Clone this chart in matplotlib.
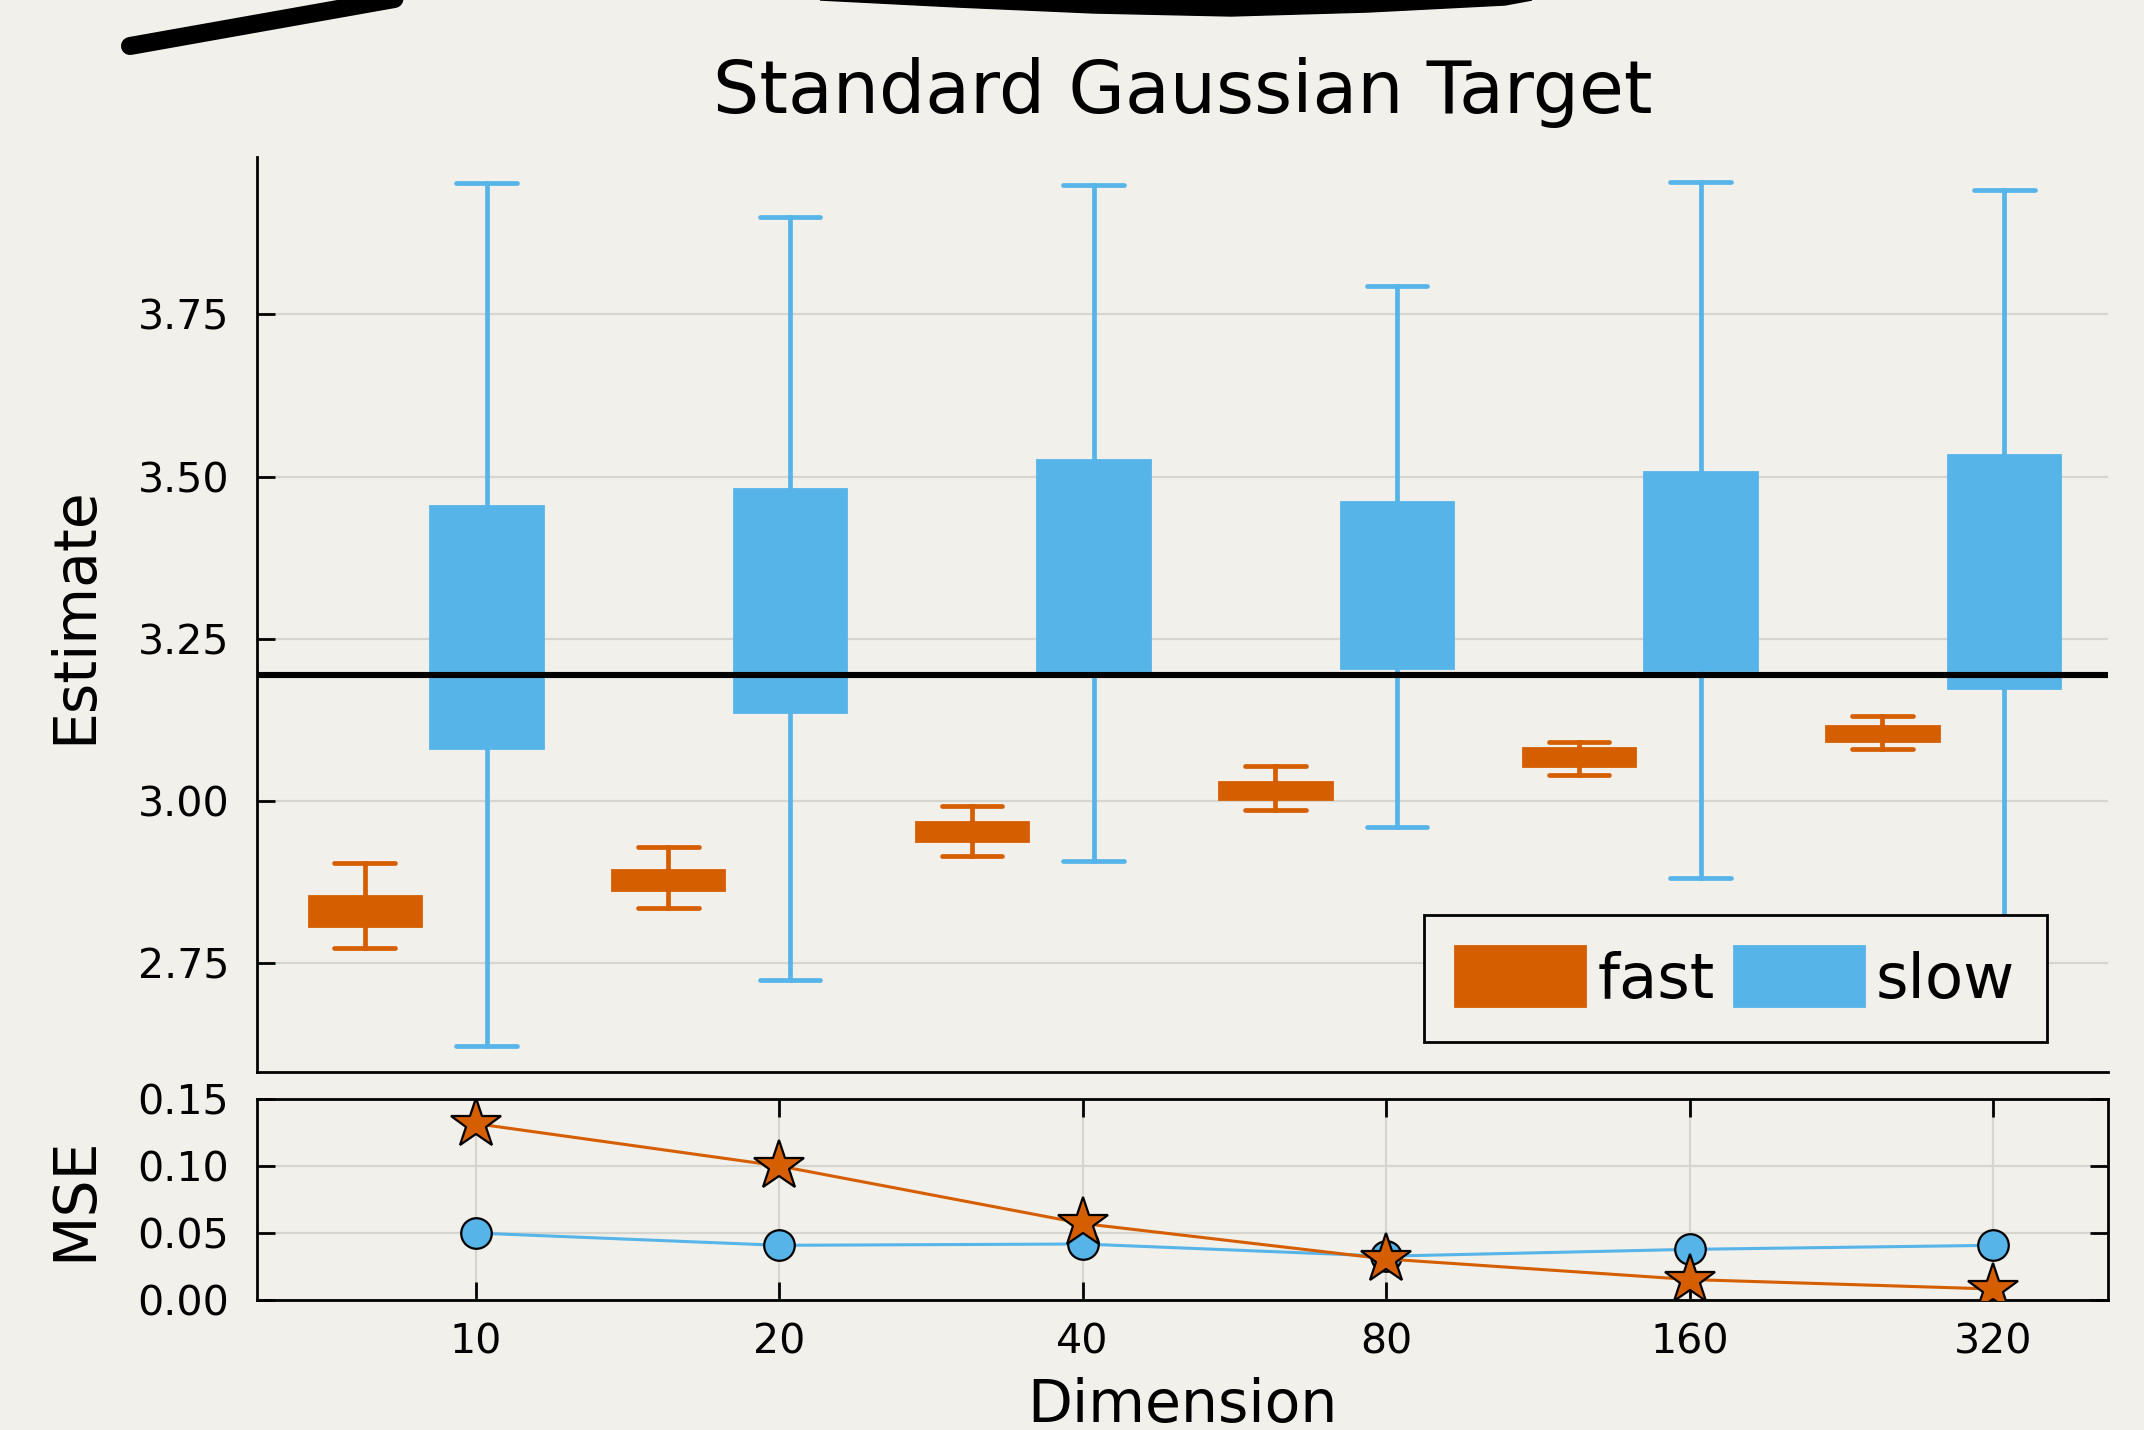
import matplotlib
matplotlib.use('Agg')
import matplotlib.pyplot as plt
import numpy as np
from matplotlib.patches import Patch, Polygon
from matplotlib.lines import Line2D

# 数据
dims = ['10', '20', '40', '80', '160', '320']
true_value = 3.193

fast_lo = [2.773, 2.834, 2.915, 2.986, 3.039, 3.079]
fast_q1 = [2.807, 2.862, 2.938, 3.003, 3.054, 3.092]
fast_med = [2.830, 2.879, 2.953, 3.016, 3.069, 3.104]
fast_q3 = [2.853, 2.893, 2.967, 3.028, 3.081, 3.115]
fast_hi = [2.904, 2.929, 2.991, 3.054, 3.090, 3.130]

slow_lo = [2.621, 2.723, 2.906, 2.959, 2.881, 2.700]
slow_q1 = [3.081, 3.136, 3.199, 3.204, 3.201, 3.174]
slow_med = [3.282, 3.313, 3.353, 3.328, 3.342, 3.335]
slow_q3 = [3.455, 3.480, 3.526, 3.461, 3.507, 3.533]
slow_hi = [3.953, 3.900, 3.950, 3.794, 3.955, 3.942]

mse_fast = [0.1316, 0.100, 0.0571, 0.0306, 0.0153, 0.0082]
mse_slow = [0.050, 0.0408, 0.0418, 0.0327, 0.0378, 0.0408]

bg = '#f1f0eb'
orange = '#d55e00'
blue = '#56b4e9'
grid_col = '#d6d6d1'


def box_stats(lo, q1, med, q3, hi):
    return [dict(whislo=a, q1=b, med=c, q3=d, whishi=e, fliers=[])
            for a, b, c, d, e in zip(lo, q1, med, q3, hi)]


plt.rcParams['font.family'] = 'DejaVu Sans'
fig = plt.figure(figsize=(10.72, 7.15), dpi=200, facecolor=bg)
ax = fig.add_axes([0.1199, 0.2503, 0.8633, 0.6399], facecolor=bg)
ax2 = fig.add_axes([0.1199, 0.0909, 0.8633, 0.1406], facecolor=bg)

x = np.arange(len(dims))
for st, pos, col in [(box_stats(fast_lo, fast_q1, fast_med, fast_q3, fast_hi), x - 0.365, orange),
                     (box_stats(slow_lo, slow_q1, slow_med, slow_q3, slow_hi), x + 0.036, blue)]:
    ax.bxp(st, positions=pos, widths=0.37, patch_artist=True, showfliers=False,
           capwidths=0.2, manage_ticks=False,
           boxprops=dict(facecolor=col, edgecolor=col, linewidth=1),
           medianprops=dict(color=col, linewidth=0),
           whiskerprops=dict(color=col, linewidth=1.7),
           capprops=dict(color=col, linewidth=1.7, solid_capstyle='round'))

ax.axhline(true_value, color='black', lw=2.2, zorder=5)

ax.set_xlim(-0.72, 5.378)
ax.set_ylim(2.581, 3.993)
ax.set_xticks([])
ax.set_yticks([2.75, 3.0, 3.25, 3.5, 3.75])
ax.set_yticklabels(['2.75', '3.00', '3.25', '3.50', '3.75'])
ax.spines['top'].set_visible(False)
ax.spines['right'].set_visible(False)
for s in ['left', 'bottom']:
    ax.spines[s].set_linewidth(1.0)
ax.tick_params(axis='y', direction='in', length=6.5, width=1, labelsize=14.8, pad=10)
ax.grid(axis='y', color=grid_col, lw=0.8)
ax.set_axisbelow(True)

leg = ax.legend(handles=[Patch(facecolor=orange, edgecolor=orange, label='fast'),
                         Patch(facecolor=blue, edgecolor=blue, label='slow')],
                ncol=2, loc='lower right', bbox_to_anchor=(0.9668, 0.0329),
                borderaxespad=0, fontsize=22.5, fancybox=False, framealpha=1,
                facecolor=bg, edgecolor='black', handlelength=2.08, handleheight=1.1,
                handletextpad=0.2, columnspacing=0.3, borderpad=0.5)
leg.get_frame().set_linewidth(1.0)
leg.set_zorder(10)

# MSE
ax2.plot(x, mse_slow, color=blue, lw=1.1, marker='o', ms=11, mec='black', mew=0.8, zorder=3)
ax2.plot(x, mse_fast, color=orange, lw=1.1, marker='*', ms=19, mec='black', mew=0.8, zorder=4)
ax2.set_xlim(-0.72, 5.378)
ax2.set_ylim(0, 0.15)
ax2.set_xticks(x)
ax2.set_xticklabels(dims)
ax2.set_yticks([0, 0.05, 0.10, 0.15])
ax2.set_yticklabels(['0.00', '0.05', '0.10', '0.15'])
for s in ax2.spines.values():
    s.set_linewidth(1.0)
ax2.tick_params(direction='in', length=6.5, width=1, labelsize=14.8, top=True, right=True)
ax2.tick_params(axis='y', pad=10)
ax2.tick_params(axis='x', pad=8)
ax2.grid(color=grid_col, lw=0.8)
ax2.set_axisbelow(True)

fig.text(0.5515, 1 - 92 / 1430, 'Standard Gaussian Target', ha='center', va='center', fontsize=26.3)
fig.text(75 / 2144, 0.570, 'Estimate', rotation=90, ha='center', va='center', fontsize=21)
fig.text(75 / 2144, 0.1615, 'MSE', rotation=90, ha='center', va='center', fontsize=21)
fig.text(0.5515, 1 - 1422 / 1430, 'Dimension', ha='center', va='baseline', fontsize=21)

# 顶部的涂鸦
fig.add_artist(Line2D([130 / 2144, 400 / 2144], [1 - 46 / 1430, 1 + 2 / 1430],
                      transform=fig.transFigure, color='black', lw=6.5, solid_capstyle='round'))
blob_x = np.array([820, 957, 1094, 1231, 1368, 1505, 1532]) / 2144
blob_y = 1 - np.array([0, 7, 13, 16, 12, 5, 0]) / 1430
fig.add_artist(Polygon(np.column_stack([blob_x, blob_y]), closed=True, transform=fig.transFigure,
                       facecolor='black', edgecolor='black', lw=0.5))

fig.savefig('out.png', dpi=200, facecolor=bg)
